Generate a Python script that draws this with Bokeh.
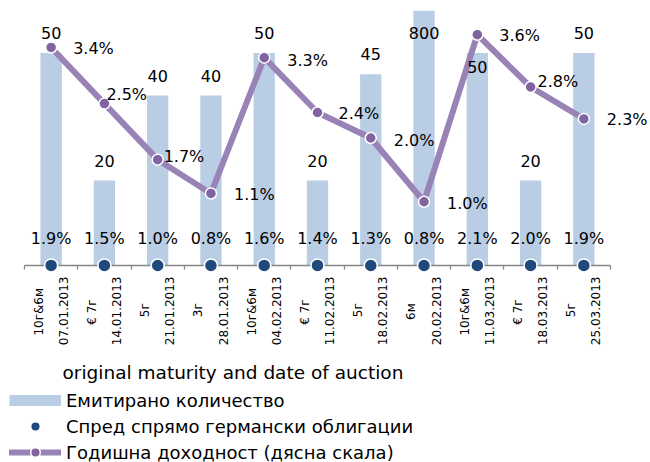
import numpy as np
from bokeh.plotting import figure
from bokeh.models import (ColumnDataSource, Range1d, LabelSet, Label, Legend, LegendItem,
                          FixedTicker, LinearAxis)
from bokeh.embed import file_html
from bokeh.resources import INLINE
from bokeh.core.properties import value

# ---- data ----
maturities = ["10г&6м", "€ 7г", "5г", "3г", "10г&6м", "€ 7г", "5г", "6м", "10г&6м", "€ 7г", "5г"]
dates = ["07.01.2013", "14.01.2013", "21.01.2013", "28.01.2013", "04.02.2013", "11.02.2013",
         "18.02.2013", "20.02.2013", "11.03.2013", "18.03.2013", "25.03.2013"]
issued = [50, 20, 40, 40, 50, 20, 45, 800, 50, 20, 50]
spread = [1.9, 1.5, 1.0, 0.8, 1.6, 1.4, 1.3, 0.8, 2.1, 2.0, 1.9]
yields = [3.42, 2.54, 1.66, 1.13, 3.26, 2.4, 2.0, 1.0, 3.62, 2.8, 2.3]

# ---- label placement (style) ----
bar_dy = [20, 20, 20, 20, 20, 20, 20, 20, -14, 20, 20]
yield_dx = [22, 2, 6, 23, 23, 21, 23, 23, 22, 7, 23]
yield_dy = [-1, 9, 3, -1, -3, -1, -2, -2, -1, 6, -1]
# trailing no-break spaces that centre the short first line of each rotated tick label
centre_pad = {"10г&6м": 3, "€ 7г": 6, "5г": 7, "3г": 7, "6м": 7}
tick_labels = [f"{m}{chr(160) * centre_pad[m]}\n{d}" for m, d in zip(maturities, dates)]

FONT = "DejaVu Sans"
W, H = 650, 462
TOP = 10            # frame top (px)
AXIS_Y = 265        # pixel row of the category axis
LEFT, RIGHT = 24, 610
n = len(dates)
pos = np.arange(n)
unit = (RIGHT - LEFT) / n

src = ColumnDataSource(dict(
    x=pos,
    issued=issued,
    issued_lab=[str(v) for v in issued],
    issued_pos=np.minimum(np.array(issued, dtype=float), 50.0),
    bar_dy=bar_dy,
    spread_y=np.array(spread) / 100.0,
    spread_lab=[f"{v:.1f}%" for v in spread],
    yields=yields,
    yield_lab=[f"{v:.1f}%" for v in yields],
    ydx=yield_dx,
    ydy=yield_dy,
))

bar_px = (AXIS_Y - TOP) / 60.0
yld_px = (AXIS_Y - TOP) / 4.0
p = figure(x_range=Range1d(-0.5 - LEFT / unit, n - 0.5 + (W - RIGHT) / unit),
           y_range=Range1d(-(H - AXIS_Y) / bar_px, 60),
           width=W, height=H,
           min_border_left=0, min_border_right=0, min_border_top=TOP, min_border_bottom=0,
           y_axis_location=None, output_backend="svg", toolbar_location=None)
p.extra_y_ranges = {"yield": Range1d(-(H - AXIS_Y) / yld_px, 4)}
p.outline_line_color = None
p.xgrid.visible = False
p.ygrid.visible = False
p.background_fill_color = "white"
p.border_fill_color = "white"

bars = p.vbar(x="x", top="issued", bottom=0, width=0.4, source=src,
              fill_color="#b9cde5", line_color=None)
line_r = p.line(x="x", y="yields", source=src, y_range_name="yield",
                line_color="#9983b6", line_width=6, line_join="round", line_cap="round")
mark_r = p.scatter(x="x", y="yields", source=src, y_range_name="yield", size=11,
                   fill_color="#8064a2", line_color="white", line_width=1.5)
spread_r = p.scatter(x="x", y="spread_y", source=src, size=13, level="overlay",
                     fill_color="#1f497d", line_color="white", line_width=1.5)

# axis carrying the category labels (at the category centres)
ax = p.xaxis[0]
ax.fixed_location = 0
ax.ticker = FixedTicker(ticks=list(pos))
ax.major_label_overrides = {int(i): t for i, t in zip(pos, tick_labels)}
ax.axis_line_color = None
ax.major_tick_line_color = None
ax.major_tick_out = 0
ax.major_tick_in = 0
ax.minor_tick_line_color = None
ax.major_label_orientation = np.pi / 2
ax.major_label_text_font = FONT
ax.major_label_text_font_size = "12px"
ax.major_label_text_line_height = 1.8
ax.major_label_standoff = 11
ax.major_label_text_color = "black"

# axis line with tick marks between the categories
ax2 = LinearAxis(fixed_location=0, bounds=(-0.5, n - 0.5),
                 ticker=FixedTicker(ticks=[i - 0.5 for i in range(n + 1)]),
                 axis_line_color="#868686", axis_line_width=1.5,
                 major_tick_line_color="#868686", major_tick_line_width=1.3,
                 major_tick_out=4, major_tick_in=0, minor_tick_line_color=None,
                 major_label_text_color=None, major_label_text_font_size="0px")
p.add_layout(ax2, "below")

p.add_layout(LabelSet(x="x", y="issued_pos", text="issued_lab", y_offset="bar_dy", source=src,
                      text_align="center", text_baseline="middle",
                      text_font=value(FONT), text_font_size="16px", text_color="black"))
p.add_layout(LabelSet(x="x", y="yields", text="yield_lab", x_offset="ydx", y_offset="ydy",
                      source=src, y_range_name="yield",
                      text_align="left", text_baseline="middle",
                      text_font=value(FONT), text_font_size="16px", text_color="black"))
p.add_layout(LabelSet(x="x", y="spread_y", text="spread_lab", y_offset=27, source=src,
                      text_align="center", text_baseline="middle",
                      text_font=value(FONT), text_font_size="16px", text_color="black"))

p.add_layout(Label(x=62, y=H - 372, x_units="screen", y_units="screen",
                   text="original maturity and date of auction",
                   text_font=FONT, text_font_size="18.5px", text_baseline="alphabetic",
                   text_color="black"))

# legend-only swatch for the bars
bar_sw = p.line(x=[np.nan], y=[np.nan], line_color="#b9cde5", line_width=11)

legend = Legend(items=[
    LegendItem(label="Емитирано количество", renderers=[bar_sw]),
    LegendItem(label="Спред спрямо германски облигации", renderers=[spread_r]),
    LegendItem(label="Годишна доходност (дясна скала)", renderers=[line_r, mark_r]),
], location=(9, -2), orientation="vertical",
    padding=15, margin=0, spacing=2, glyph_width=52, glyph_height=24, label_height=20,
    label_standoff=5, label_text_font=FONT, label_text_font_size="18px",
    label_text_color="black", border_line_color=None, background_fill_color="white",
    background_fill_alpha=1.0)
p.add_layout(legend)

open("out.html", "w").write(file_html(p, INLINE))
